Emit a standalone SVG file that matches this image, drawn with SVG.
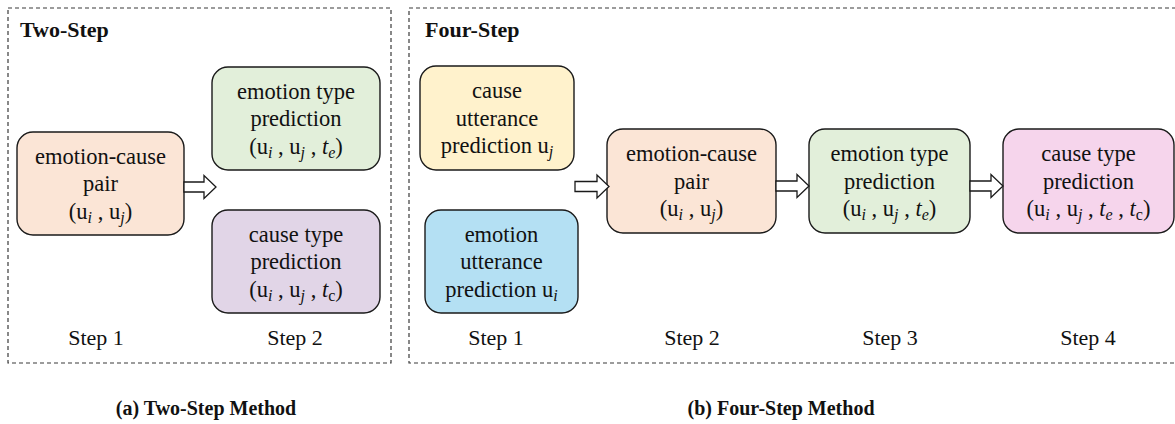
<svg xmlns="http://www.w3.org/2000/svg" width="1175" height="424" viewBox="0 0 1175 424">
<style>
.panel{fill:none;stroke:#3a3a3a;stroke-width:1.2;stroke-dasharray:4 3}
.box{stroke:#1a1a1a;stroke-width:1.4}
.t{font-family:"Liberation Serif","Times New Roman",serif;font-size:22.5px;fill:#111;text-anchor:middle}
.s{font-family:"Liberation Serif","Times New Roman",serif;font-size:22px;fill:#111;text-anchor:middle}
.h{font-family:"Liberation Serif","Times New Roman",serif;font-size:22px;font-weight:bold;fill:#111}
.cap{font-family:"Liberation Serif","Times New Roman",serif;font-size:20px;font-weight:bold;fill:#111}
.sub{font-style:italic;font-size:16px}
.subr{font-size:16px}
.it{font-style:italic}
.arrow{fill:#fff;stroke:#1a1a1a;stroke-width:1.3;stroke-linejoin:miter}
</style>
<rect class="panel" x="8" y="8" width="383" height="355"/>
<rect class="panel" x="409" y="8" width="772" height="355"/>
<text class="h" x="20" y="37">Two-Step</text>
<text class="h" x="425" y="37">Four-Step</text>

<g id="two-pair">
<rect class="box" x="17" y="132" width="167" height="103" rx="16" fill="#FBE5D6"/>
<text class="t" x="100.5" y="163.5">emotion-cause</text>
<text class="t" x="100.5" y="191">pair</text>
<text class="t" x="100.5" y="218.5">(u<tspan class="sub" dy="4">i</tspan><tspan dy="-4"> , u</tspan><tspan class="sub" dy="4">j</tspan><tspan dy="-4">)</tspan></text>
</g>
<g id="two-emotion-type">
<rect class="box" x="212" y="67" width="168" height="103" rx="16" fill="#E2EFDA"/>
<text class="t" x="296" y="98.5">emotion type</text>
<text class="t" x="296" y="126">prediction</text>
<text class="t" x="296" y="153.5">(u<tspan class="sub" dy="4">i</tspan><tspan dy="-4"> , u</tspan><tspan class="sub" dy="4">j</tspan><tspan dy="-4"> , </tspan><tspan class="it">t</tspan><tspan class="sub" dy="4">e</tspan><tspan dy="-4">)</tspan></text>
</g>
<g id="two-cause-type">
<rect class="box" x="212" y="210" width="168" height="103" rx="16" fill="#E1D5E7"/>
<text class="t" x="296" y="241.5">cause type</text>
<text class="t" x="296" y="269">prediction</text>
<text class="t" x="296" y="296.5">(u<tspan class="sub" dy="4">i</tspan><tspan dy="-4"> , u</tspan><tspan class="sub" dy="4">j</tspan><tspan dy="-4"> , </tspan><tspan class="it">t</tspan><tspan class="subr" dy="4">c</tspan><tspan dy="-4">)</tspan></text>
</g>

<g id="four-cause-utt">
<rect class="box" x="420" y="66" width="154" height="104" rx="16" fill="#FFF2CC"/>
<text class="t" x="497" y="98">cause</text>
<text class="t" x="497" y="125.5">utterance</text>
<text class="t" x="497" y="153">prediction u<tspan class="sub" dy="4">j</tspan></text>
</g>
<g id="four-emotion-utt">
<rect class="box" x="425" y="210" width="153" height="103" rx="16" fill="#B4E0F3"/>
<text class="t" x="501.5" y="241.5">emotion</text>
<text class="t" x="501.5" y="269">utterance</text>
<text class="t" x="501.5" y="296.5">prediction u<tspan class="sub" dy="4">i</tspan></text>
</g>
<g id="four-pair">
<rect class="box" x="607" y="129" width="169" height="104" rx="16" fill="#FBE5D6"/>
<text class="t" x="691.5" y="161">emotion-cause</text>
<text class="t" x="691.5" y="188.5">pair</text>
<text class="t" x="691.5" y="216">(u<tspan class="sub" dy="4">i</tspan><tspan dy="-4"> , u</tspan><tspan class="sub" dy="4">j</tspan><tspan dy="-4">)</tspan></text>
</g>
<g id="four-emotion-type">
<rect class="box" x="809" y="129" width="161" height="104" rx="16" fill="#E2EFDA"/>
<text class="t" x="889.5" y="161">emotion type</text>
<text class="t" x="889.5" y="188.5">prediction</text>
<text class="t" x="889.5" y="216">(u<tspan class="sub" dy="4">i</tspan><tspan dy="-4"> , u</tspan><tspan class="sub" dy="4">j</tspan><tspan dy="-4"> , </tspan><tspan class="it">t</tspan><tspan class="sub" dy="4">e</tspan><tspan dy="-4">)</tspan></text>
</g>
<g id="four-cause-type">
<rect class="box" x="1003" y="129" width="171" height="104" rx="16" fill="#F6D5EC"/>
<text class="t" x="1088.5" y="161">cause type</text>
<text class="t" x="1088.5" y="188.5">prediction</text>
<text class="t" x="1088.5" y="216">(u<tspan class="sub" dy="4">i</tspan><tspan dy="-4"> , u</tspan><tspan class="sub" dy="4">j</tspan><tspan dy="-4"> , </tspan><tspan class="it">t</tspan><tspan class="sub" dy="4">e</tspan><tspan dy="-4"> , </tspan><tspan class="it">t</tspan><tspan class="subr" dy="4">c</tspan><tspan dy="-4">)</tspan></text>
</g>

<g id="connectors">
<polygon class="arrow" points="184,182 204,182 204,175.5 216,187 204,198.5 204,192 184,192"/>
<polygon class="arrow" points="575,181.5 597,181.5 597,175 609,186.5 597,198 597,191.5 575,191.5"/>
<polygon class="arrow" points="776,181 797,181 797,174.5 809,186 797,197.5 797,191 776,191"/>
<polygon class="arrow" points="970,181 991,181 991,174.5 1003,186 991,197.5 991,191 970,191"/>
</g>

<text class="s" x="96" y="345">Step 1</text>
<text class="s" x="295" y="345">Step 2</text>
<text class="s" x="496" y="345">Step 1</text>
<text class="s" x="692" y="345">Step 2</text>
<text class="s" x="890" y="345">Step 3</text>
<text class="s" x="1088" y="345">Step 4</text>

<text class="cap" x="206" y="415" text-anchor="middle">(a) Two-Step Method</text>
<text class="cap" x="781" y="415" text-anchor="middle">(b) Four-Step Method</text>
</svg>
